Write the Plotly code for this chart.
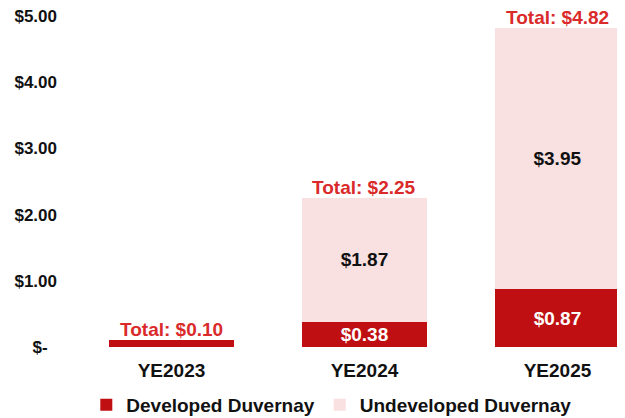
import plotly.graph_objects as go

categories = ["YE2023", "YE2024", "YE2025"]
developed = [0.10, 0.38, 0.87]
undeveloped = [0.00, 1.87, 3.95]
totals = [0.10, 2.25, 4.82]
tick_vals = [0, 1, 2, 3, 4, 5]
tick_text = ["$-\u00a0\u00a0", "$1.00", "$2.00", "$3.00", "$4.00", "$5.00"]

DEV = "#C00F12"
UND = "#F9E0E1"
TOT = "#DA2A2A"
FONT = "Liberation Sans, Arial, sans-serif"

def lab(v):
    return f"${v:.2f}" if v >= 0.2 else ""

fig = go.Figure()
fig.add_trace(go.Bar(
    x=categories, y=developed, name="Developed Duvernay",
    marker=dict(color=DEV, line=dict(width=0)), width=0.648,
    text=[lab(v) for v in developed], textposition="inside",
    insidetextanchor="middle", textangle=0, constraintext="none",
    textfont=dict(color="white", size=19, family=FONT, weight="bold"),
    hoverinfo="skip",
))
fig.add_trace(go.Bar(
    x=categories, y=undeveloped, name="Undeveloped Duvernay",
    marker=dict(color=UND, line=dict(width=0)), width=0.648,
    text=[lab(v) for v in undeveloped], textposition="inside",
    insidetextanchor="middle", textangle=0, constraintext="none",
    textfont=dict(color="#111111", size=19, family=FONT, weight="bold"),
    hoverinfo="skip",
))

for c, t in zip(categories, totals):
    fig.add_annotation(
        x=c, y=t, text=f"Total: ${t:.2f}", showarrow=False,
        yanchor="bottom", yshift=-2,
        font=dict(color=TOT, size=19, family=FONT, weight="bold"),
    )

# page body has an 8px default margin, so the figure is 8px smaller
fig.update_layout(
    barmode="stack",
    width=617, height=410,
    margin=dict(l=67, r=0, t=8, b=71, autoexpand=False),
    plot_bgcolor="white", paper_bgcolor="white",
    font=dict(family=FONT, color="#111111"),
    showlegend=True,
    legend=dict(
        orientation="h",
        x=0.466, xanchor="center", y=-0.175, yanchor="middle",
        font=dict(size=19, family=FONT, color="#111111", weight="bold"),
        itemclick=False, itemdoubleclick=False,
        traceorder="normal",
    ),
    xaxis=dict(
        range=[-0.5, 2.35], showgrid=False, zeroline=False, showline=False,
        automargin=False, ticklabelstandoff=10,
        ticks="", tickfont=dict(size=19, family=FONT, color="#111111", weight="bold"),
    ),
    yaxis=dict(
        range=[0, 5], tickvals=tick_vals, ticktext=tick_text,
        showgrid=False, zeroline=False, showline=False, ticks="",
        automargin=False, ticklabelstandoff=17, ticklabeloverflow="allow",
        tickfont=dict(size=17, family=FONT, color="#111111", weight="bold"),
    ),
)

fig.write_html("out.html")
